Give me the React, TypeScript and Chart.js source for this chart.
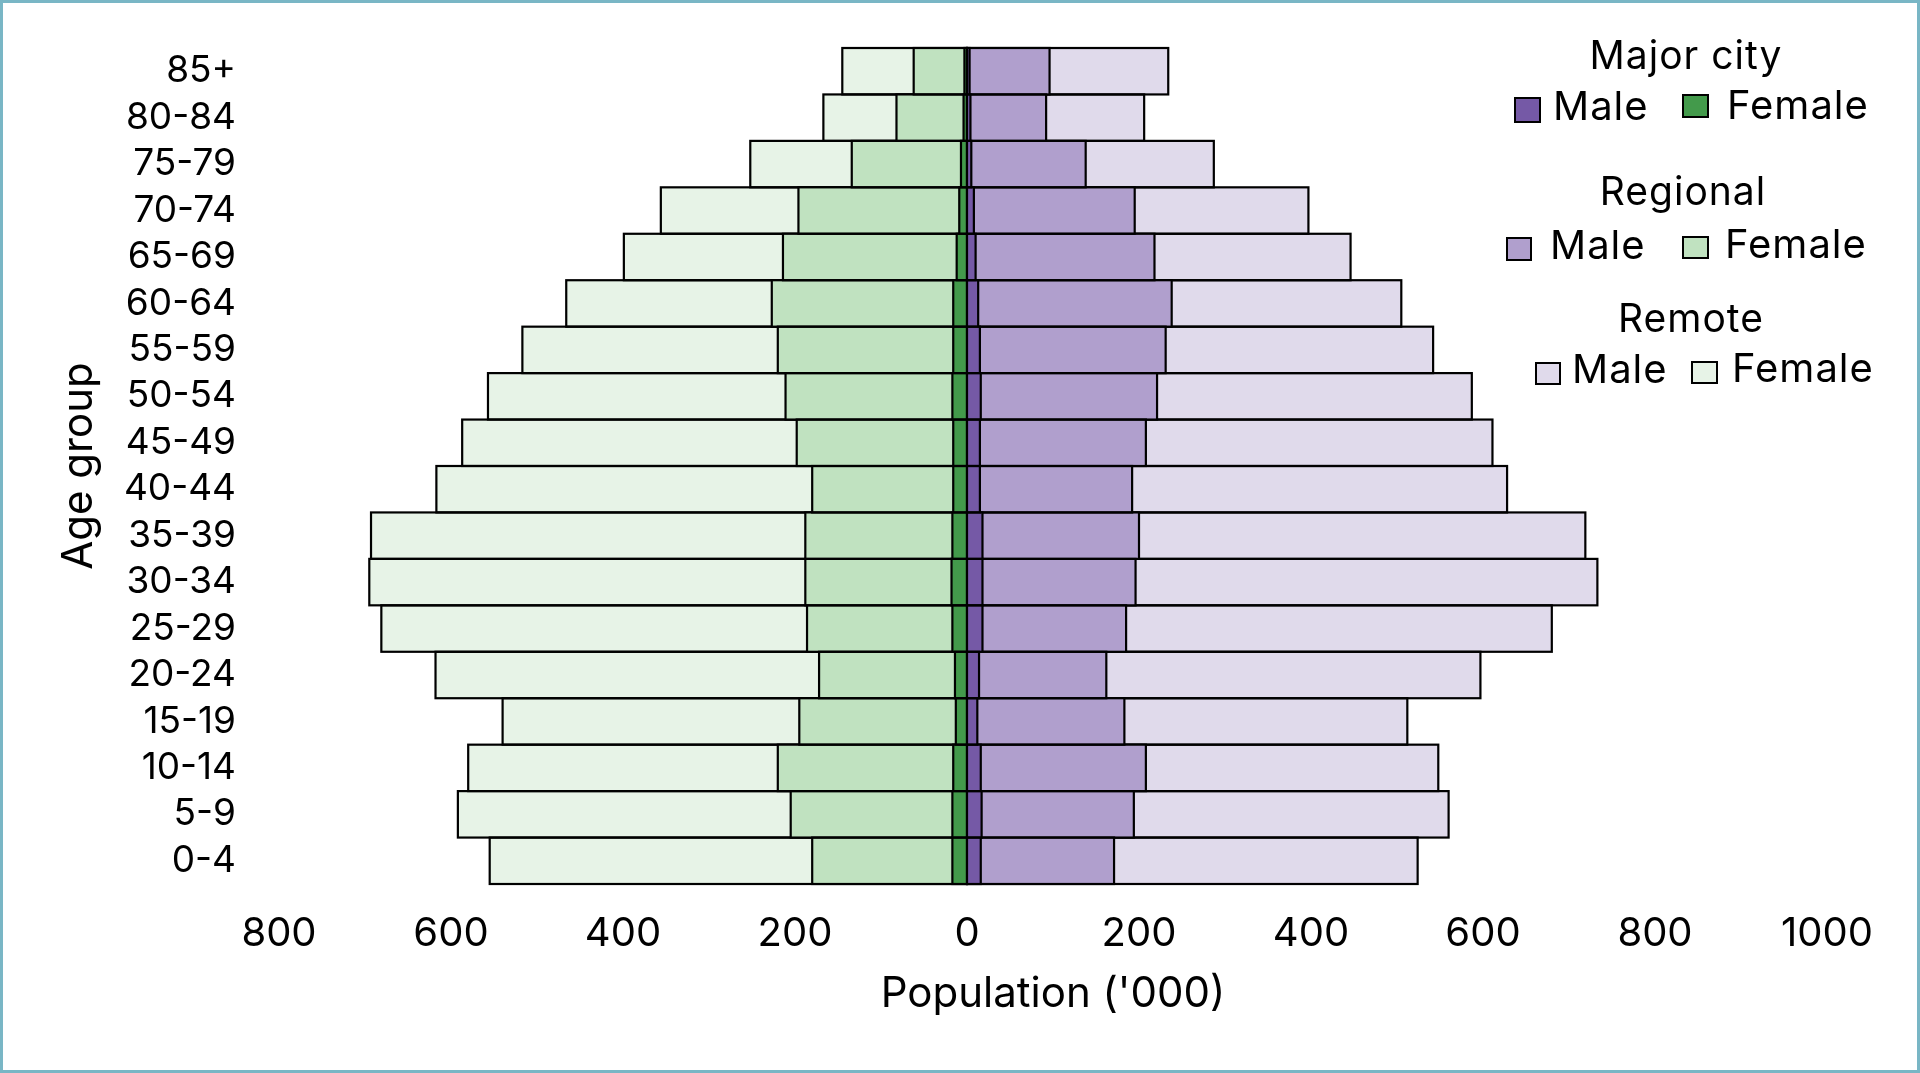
import React, { useEffect, useRef } from 'react';
import { Chart, registerables } from 'chart.js';

Chart.register(...registerables);

// ---------- data ----------
const ageGroups = ['85+', '80-84', '75-79', '70-74', '65-69', '60-64', '55-59', '50-54', '45-49', '40-44', '35-39', '30-34', '25-29', '20-24', '15-19', '10-14', '5-9', '0-4'];

const majorCityMale = [3, 4, 5, 8, 10, 13, 15, 16, 15, 15, 18, 18, 18, 14, 12, 16, 17, 16];
const majorCityFemale = [3, 4, 7, 9, 12, 16, 16, 17, 16, 16, 17, 18, 17, 14, 13, 16, 17, 17];
const regionalMale = [96, 92, 138, 195, 218, 238, 231, 221, 208, 192, 200, 196, 185, 162, 183, 208, 194, 171];
const regionalFemale = [62, 82, 134, 196, 214, 227, 220, 211, 198, 180, 188, 188, 186, 172, 195, 220, 205, 180];
const remoteMale = [234, 206, 287, 397, 446, 505, 542, 587, 611, 628, 719, 733, 680, 597, 512, 548, 560, 524];
const remoteFemale = [145, 167, 252, 356, 399, 466, 517, 557, 587, 617, 693, 695, 681, 618, 540, 580, 592, 555];

const populationTicks = [-800, -600, -400, -200, 0, 200, 400, 600, 800, 1000];

const regionNames = ['Major city', 'Regional', 'Remote'];
const sexNames = ['Male', 'Female'];
const maleColors = ['#7559a6', '#b09fcd', '#e0daeb'];
const femaleColors = ['#439a4b', '#c0e2c0', '#e7f3e7'];

// ---------- styles ----------
const FONT = 'Inter';
const OUTLINE = 2.2;
const legendLayout = [
  { titleX: 1686, titleY: 69, m: [1515, 98, 25, 24, 1553, 120], f: [1683, 95, 25, 22, 1727, 119] },
  { titleX: 1683, titleY: 205, m: [1507, 238, 24, 22, 1550, 259], f: [1683, 237, 25, 21, 1725, 258] },
  { titleX: 1691, titleY: 332, m: [1536, 363, 24, 21, 1572, 383], f: [1692, 362, 25, 21, 1732, 382] },
];

// stroke each bar's outline right after its dataset is drawn (keeps overlap order)
const barOutline = {
  id: 'barOutline',
  afterDatasetDraw(chart: any, args: any) {
    const ctx = chart.ctx as CanvasRenderingContext2D;
    ctx.save();
    ctx.strokeStyle = '#000';
    ctx.lineWidth = OUTLINE;
    args.meta.data.forEach((bar: any) => {
      const { x, y, base, height } = bar.getProps(['x', 'y', 'base', 'height'], true);
      const l = Math.min(x, base);
      const r = Math.max(x, base);
      ctx.strokeRect(l, y - height / 2, r - l, height);
    });
    ctx.restore();
  },
};

const groupLegend = {
  id: 'groupLegend',
  afterDraw(chart: any) {
    const ctx = chart.ctx as CanvasRenderingContext2D;
    ctx.save();
    ctx.textBaseline = 'alphabetic';
    (ctx as any).letterSpacing = '1px';
    legendLayout.forEach((g, i) => {
      ctx.fillStyle = '#000';
      ctx.font = `39px ${FONT}`;
      ctx.textAlign = 'center';
      ctx.fillText(regionNames[i], g.titleX, g.titleY);
      const items = [
        { box: g.m, color: maleColors[i], text: sexNames[0] },
        { box: g.f, color: femaleColors[i], text: sexNames[1] },
      ];
      items.forEach((it) => {
        const [sx, sy, w, h, tx, ty] = it.box;
        ctx.fillStyle = it.color;
        ctx.fillRect(sx, sy, w, h);
        ctx.lineWidth = 2;
        ctx.strokeStyle = '#000';
        ctx.strokeRect(sx, sy, w, h);
        ctx.fillStyle = '#000';
        ctx.font = `40px ${FONT}`;
        ctx.textAlign = 'left';
        ctx.fillText(it.text, tx, ty);
      });
    });
    ctx.restore();
  },
};

const barCommon = {
  borderWidth: 0,
  barPercentage: 1,
  categoryPercentage: 1,
  clip: false,
};

export default function App() {
  const canvasRef = useRef<HTMLCanvasElement | null>(null);

  useEffect(() => {
    if (!canvasRef.current) return;
    const neg = (a: number[]) => a.map((v) => -v);
    const chart = new Chart(canvasRef.current, {
      type: 'bar',
      data: {
        labels: ageGroups,
        datasets: [
          { label: 'Major city Male', data: majorCityMale, backgroundColor: maleColors[0], ...barCommon },
          { label: 'Major city Female', data: neg(majorCityFemale), backgroundColor: femaleColors[0], ...barCommon },
          { label: 'Regional Male', data: regionalMale, backgroundColor: maleColors[1], ...barCommon },
          { label: 'Regional Female', data: neg(regionalFemale), backgroundColor: femaleColors[1], ...barCommon },
          { label: 'Remote Male', data: remoteMale, backgroundColor: maleColors[2], ...barCommon },
          { label: 'Remote Female', data: neg(remoteFemale), backgroundColor: femaleColors[2], ...barCommon },
        ] as any,
      },
      options: {
        animation: false,
        responsive: false,
        indexAxis: 'y',
        layout: { padding: { left: 0, right: 93, top: 48, bottom: 0 } },
        plugins: { legend: { display: false }, tooltip: { enabled: false } },
        scales: {
          x: {
            type: 'linear',
            min: -800,
            max: 1000,
            stacked: false,
            grid: { display: false, drawTicks: false },
            border: { display: false },
            afterBuildTicks: (s: any) => {
              s.ticks = populationTicks.map((v) => ({ value: v }));
            },
            afterFit: (s: any) => {
              s.height = 189;
            },
            ticks: {
              padding: 26,
              color: '#000',
              autoSkip: false,
              maxRotation: 0,
              font: { family: FONT, size: 40 },
              callback: (v: any) => String(Math.abs(Number(v))),
            },
            title: {
              display: true,
              text: "Population ('000)",
              color: '#000',
              font: { family: FONT, size: 42 },
              padding: { top: 0, bottom: 53 },
            },
          },
          y: {
            stacked: true,
            grid: { display: false, drawTicks: false },
            border: { display: false },
            afterFit: (s: any) => {
              s.width = 279;
              s.paddingTop = 0;
              s.paddingBottom = 0;
            },
            ticks: {
              padding: 43,
              color: '#000',
              autoSkip: false,
              font: { family: FONT, size: 37 },
            },
            title: {
              display: true,
              text: 'Age group',
              color: '#000',
              font: { family: FONT, size: 42 },
              padding: { top: 54, bottom: 0 },
            },
          },
        },
      } as any,
      plugins: [barOutline, groupLegend],
    });
    return () => chart.destroy();
  }, []);

  return (
    <div style={{ position: 'fixed', left: 0, top: 0, width: 1920, height: 1073, background: '#fff' }}>
      <canvas ref={canvasRef} width={1920} height={1073} style={{ display: 'block', width: 1920, height: 1073 }} />
      <div
        style={{
          position: 'absolute',
          inset: 0,
          border: '3px solid #79b6c5',
          boxSizing: 'border-box',
          pointerEvents: 'none',
        }}
      />
    </div>
  );
}
